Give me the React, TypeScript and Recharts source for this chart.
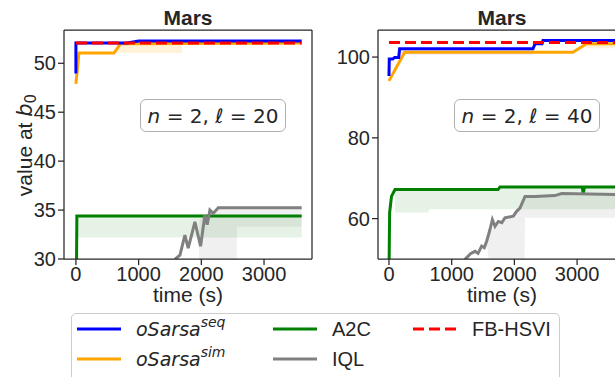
import { Area, ComposedChart, Line, ReferenceLine, XAxis, YAxis } from "recharts";

// time ticks shared by both panels
const xTicks = [0, 1000, 2000, 3000];

// ---- panel n=2, l=20 ----
const yTicks20 = [30, 35, 40, 45, 50];
const seqT20 = [0, 0, 818, 1000, 3600];
const seqV20 = [48.95, 52.07, 52.07, 52.28, 52.28];
const simT20 = [0, 48, 606, 712, 3600];
const simV20 = [47.9, 51.05, 51.05, 52.0, 52.07];
const simBandT20 = [606, 712, 1690];
const simBandLo20 = [51.05, 51.05, 51.05];
const simBandHi20 = [51.05, 52.0, 52.0];
const a2cT20 = [5, 15, 3600];
const a2cV20 = [25, 34.39, 34.39];
const a2cBandT20 = [15, 3600];
const a2cBandLo20 = [32.2, 32.2];
const a2cBandHi20 = [34.39, 34.39];
const iqlT20 = [1560, 1595, 1659, 1738, 1791, 1898, 1988, 2057, 2094, 2137, 2190, 2270, 3600];
const iqlV20 = [29.5, 30.07, 30.4, 32.45, 31.1, 33.8, 31.3, 34.5, 33.5, 35.0, 34.66, 35.23, 35.23];
const iqlBandT20 = [1960, 1970, 2100, 2200, 2300, 2560, 2570, 3600];
const iqlBandLo20 = [31.5, 29, 29, 29, 29, 29, 33.3, 33.3];
const iqlBandHi20 = [31.5, 34, 34.5, 34.8, 35.2, 35.2, 35.2, 35.2];
const fbT20 = [0, 3600];
const fbV20 = [52.07, 52.07];

// ---- panel n=2, l=40 ----
const yTicks40 = [60, 80, 100];
const seqT40 = [0, 5, 60, 90, 155, 170, 2297, 2330, 2440, 2456, 3800];
const seqV40 = [95.3, 99.5, 99.5, 99.9, 99.9, 102.05, 102.05, 103.3, 103.3, 104.1, 104.1];
const seqBandT40 = [170, 2297];
const seqBandLo40 = [100.6, 100.6];
const seqBandHi40 = [102.05, 102.05];
const simT40 = [0, 250, 2935, 3150, 3800];
const simV40 = [94.1, 101.2, 101.2, 103.3, 103.3];
const simBandT40 = [3150, 3800];
const simBandLo40 = [102.2, 102.2];
const simBandHi40 = [103.3, 103.3];
const a2cT40 = [0, 10, 40, 96, 1740, 1770, 3080, 3099, 3118, 3800];
const a2cV40 = [45, 61.4, 65.5, 67.2, 67.2, 67.85, 67.85, 66.3, 67.85, 67.85];
const a2cBandT40 = [96, 630, 640, 1740, 1770, 3800];
const a2cBandLo40 = [61.5, 61.5, 62.3, 62.3, 62.3, 62.3];
const a2cBandHi40 = [67.2, 67.2, 67.2, 67.2, 67.85, 67.85];
const iqlT40 = [1212, 1300, 1372, 1420, 1478, 1520, 1558, 1611, 1649, 1691, 1744, 1800, 1850, 1983, 2036, 2089, 2169, 2329, 2648, 2754, 3800];
const iqlV40 = [49.9, 51.3, 51.9, 51.4, 53.2, 52.8, 54.4, 57.3, 59.75, 58.1, 59.3, 59.0, 60.2, 60.6, 61.8, 62.6, 65.5, 65.5, 65.7, 66.2, 65.9];
const iqlBandT40 = [1550, 1600, 1700, 1800, 1900, 2000, 2100, 2160, 2170, 3800];
const iqlBandLo40 = [54.4, 49, 49, 49, 49, 49, 49, 49, 60.2, 60.2];
const iqlBandHi40 = [54.4, 56.5, 58.3, 59.6, 60.4, 61.2, 63, 65.4, 65.5, 65.9];
const fbT40 = [0, 3800];
const fbV40 = [103.6, 103.6];

const BLUE = "#0000ff";
const ORANGE = "#ffa500";
const GREEN = "#008000";
const GRAY = "#808080";
const RED = "#ff0000";
const INK = "#262626";
const SANS = "'Liberation Sans', Arial, sans-serif";
const MATH = "'DejaVu Sans', sans-serif";

const pts = (ts: number[], vs: number[]) => ts.map((t, i) => ({ t, v: vs[i] }));
const band = (ts: number[], lo: number[], hi: number[]) =>
  ts.map((t, i) => ({ t, band: [lo[i], hi[i]] }));

type Series = { t: number[]; v: number[] };
type Band = { t: number[]; lo: number[]; hi: number[] };

function Panel(props: {
  left: number;
  yAxisWidth: number;
  rightMargin: number;
  xDomain: [number, number];
  yDomain: [number, number];
  yTicks: number[];
  seq: Series;
  sim: Series;
  a2c: Series;
  iql: Series;
  fb: Series;
  bands: { b: Band; color: string; op: number }[];
}) {
  const tick = { fontSize: 20, fill: INK, fontFamily: SANS };
  return (
    <div style={{ position: "absolute", left: props.left, top: 0 }}>
      <ComposedChart
        width={props.yAxisWidth + 248 + props.rightMargin}
        height={310}
        margin={{ top: 30, right: props.rightMargin, bottom: 0, left: 0 }}
      >
        <XAxis
          type="number"
          dataKey="t"
          domain={props.xDomain}
          ticks={xTicks}
          allowDataOverflow
          height={51}
          tick={tick}
          stroke={INK}
          axisLine={{ stroke: INK, strokeWidth: 1.25 }}
          tickLine={{ stroke: INK, strokeWidth: 1.25 }}
        />
        <YAxis
          type="number"
          domain={props.yDomain}
          ticks={props.yTicks}
          allowDataOverflow
          width={props.yAxisWidth}
          tick={tick}
          axisLine={{ stroke: INK, strokeWidth: 1.25 }}
          tickLine={{ stroke: INK, strokeWidth: 1.25 }}
        />
        {props.bands.map((x, i) => (
          <Area
            key={i}
            data={band(x.b.t, x.b.lo, x.b.hi)}
            dataKey="band"
            type="linear"
            stroke="none"
            fill={x.color}
            fillOpacity={x.op}
            isAnimationActive={false}
            activeDot={false}
          />
        ))}
        <Line data={pts(props.a2c.t, props.a2c.v)} dataKey="v" type="linear" stroke={GREEN} strokeWidth={3} dot={false} isAnimationActive={false} />
        <Line data={pts(props.iql.t, props.iql.v)} dataKey="v" type="linear" stroke={GRAY} strokeWidth={3} dot={false} isAnimationActive={false} />
        <Line data={pts(props.sim.t, props.sim.v)} dataKey="v" type="linear" stroke={ORANGE} strokeWidth={3} dot={false} isAnimationActive={false} />
        <Line data={pts(props.seq.t, props.seq.v)} dataKey="v" type="linear" stroke={BLUE} strokeWidth={3} dot={false} isAnimationActive={false} />
        <Line data={pts(props.fb.t, props.fb.v)} dataKey="v" type="linear" stroke={RED} strokeWidth={3} strokeDasharray="11 5" dot={false} isAnimationActive={false} />
        <ReferenceLine y={props.yDomain[1]} stroke={INK} strokeWidth={1.25} />
        <ReferenceLine x={props.xDomain[1]} stroke={INK} strokeWidth={1.25} />
      </ComposedChart>
    </div>
  );
}

function Note({ left, ell }: { left: number; ell: string }) {
  return (
    <div
      style={{
        position: "absolute",
        left,
        top: 99,
        width: 144,
        height: 31,
        border: "1px solid #b0b0b0",
        borderRadius: 6,
        background: "white",
        fontFamily: MATH,
        fontSize: 20,
        color: INK,
        display: "flex",
        alignItems: "center",
        justifyContent: "center",
        whiteSpace: "pre",
      }}
    >
      <i>n</i> = 2, <i>ℓ</i> = {ell}
    </div>
  );
}

function Txt({ x, y, size, bold, center, children }: any) {
  return (
    <div
      style={{
        position: "absolute",
        left: center ? x - 100 : x,
        width: center ? 200 : undefined,
        textAlign: center ? "center" : "left",
        top: y - 0.846 * size,
        fontSize: size,
        lineHeight: `${size}px`,
        fontWeight: bold ? "bold" : "normal",
        fontFamily: SANS,
        color: INK,
        whiteSpace: "nowrap",
      }}
    >
      {children}
    </div>
  );
}

function LegendItem({ x, y, color, dashed, children }: any) {
  return (
    <>
      <svg style={{ position: "absolute", left: x, top: y - 3 }} width={44} height={6}>
        <line x1={0} y1={3} x2={44} y2={3} stroke={color} strokeWidth={3} strokeDasharray={dashed ? "11 5" : undefined} />
      </svg>
      <Txt x={x + 59} y={y + 7} size={20}>
        {children}
      </Txt>
    </>
  );
}

const OSarsa = ({ sup }: { sup: string }) => (
  <span style={{ fontFamily: MATH, fontStyle: "italic", fontSize: 19 }}>
    oSarsa
    <span style={{ fontSize: 14, position: "relative", top: -9 }}>{sup}</span>
  </span>
);

export default function App() {
  return (
    <div
      style={{
        position: "absolute",
        left: 0,
        top: 0,
        width: 615,
        height: 377,
        overflow: "hidden",
        background: "white",
      }}
    >
      <Panel
        left={0}
        yAxisWidth={64}
        rightMargin={8}
        xDomain={[-190, 3765]}
        yDomain={[30, 53.4]}
        yTicks={yTicks20}
        seq={{ t: seqT20, v: seqV20 }}
        sim={{ t: simT20, v: simV20 }}
        a2c={{ t: a2cT20, v: a2cV20 }}
        iql={{ t: iqlT20, v: iqlV20 }}
        fb={{ t: fbT20, v: fbV20 }}
        bands={[
          { b: { t: a2cBandT20, lo: a2cBandLo20, hi: a2cBandHi20 }, color: GREEN, op: 0.1 },
          { b: { t: iqlBandT20, lo: iqlBandLo20, hi: iqlBandHi20 }, color: GRAY, op: 0.12 },
          { b: { t: simBandT20, lo: simBandLo20, hi: simBandHi20 }, color: ORANGE, op: 0.15 },
        ]}
      />
      <Panel
        left={316}
        yAxisWidth={62}
        rightMargin={10}
        xDomain={[-175, 3780]}
        yDomain={[50, 106.7]}
        yTicks={yTicks40}
        seq={{ t: seqT40, v: seqV40 }}
        sim={{ t: simT40, v: simV40 }}
        a2c={{ t: a2cT40, v: a2cV40 }}
        iql={{ t: iqlT40, v: iqlV40 }}
        fb={{ t: fbT40, v: fbV40 }}
        bands={[
          { b: { t: a2cBandT40, lo: a2cBandLo40, hi: a2cBandHi40 }, color: GREEN, op: 0.1 },
          { b: { t: iqlBandT40, lo: iqlBandLo40, hi: iqlBandHi40 }, color: GRAY, op: 0.12 },
          { b: { t: seqBandT40, lo: seqBandLo40, hi: seqBandHi40 }, color: BLUE, op: 0.08 },
          { b: { t: simBandT40, lo: simBandLo40, hi: simBandHi40 }, color: ORANGE, op: 0.15 },
        ]}
      />
      <Note left={140} ell="20" />
      <Note left={454} ell="40" />
      <Txt x={188} y={25} size={21} bold center>Mars</Txt>
      <Txt x={502} y={25} size={21} bold center>Mars</Txt>
      <Txt x={188} y={302} size={21} center>time (s)</Txt>
      <Txt x={502} y={302} size={21} center>time (s)</Txt>
      <div
        style={{
          position: "absolute",
          left: 25 - 100,
          top: 145 - 12,
          width: 200,
          height: 24,
          transform: "rotate(-90deg)",
          textAlign: "center",
          fontFamily: SANS,
          fontSize: 21,
          lineHeight: "24px",
          color: INK,
          whiteSpace: "nowrap",
        }}
      >
        value at <i style={{ fontFamily: MATH }}>b</i>
        <span style={{ fontFamily: MATH, fontSize: 15, position: "relative", top: 4 }}>0</span>
      </div>
      <div
        style={{
          position: "absolute",
          left: 71,
          top: 313,
          width: 487,
          height: 80,
          border: "1px solid #cccccc",
          borderRadius: 5,
          background: "white",
        }}
      />
      <LegendItem x={77} y={329} color={BLUE}><OSarsa sup="seq" /></LegendItem>
      <LegendItem x={77} y={359} color={ORANGE}><OSarsa sup="sim" /></LegendItem>
      <LegendItem x={273} y={329} color={GREEN}>A2C</LegendItem>
      <LegendItem x={273} y={359} color={GRAY}>IQL</LegendItem>
      <LegendItem x={413} y={329} color={RED} dashed>FB-HSVI</LegendItem>
    </div>
  );
}
